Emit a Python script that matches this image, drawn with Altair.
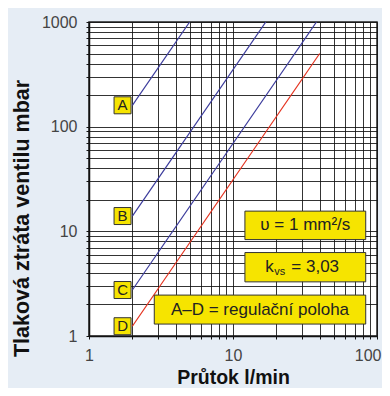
import altair as alt
import pandas as pd

# ---- data ----
series = ["A", "B", "C", "D"]
q_start = [2, 2, 2, 2]
dp_start = [160, 14, 2.75, 1.24]
q_end = [5, 16.9, 38, 40]
dp_end = [1000, 1000, 1000, 500]
line_colors = ["#3b3b9c", "#3b3b9c", "#3b3b9c", "#e5321f"]

x_ticks = [1, 2, 3, 4, 5, 6, 7, 8, 9, 10, 20, 30, 40, 50, 60, 70, 80, 90, 100]
y_ticks = [1, 2, 3, 4, 5, 6, 7, 8, 9, 10, 20, 30, 40, 50, 60, 70, 80, 90,
           100, 200, 300, 400, 500, 600, 700, 800, 900, 1000]

x_title = "Průtok l/min"
y_title = "Tlaková ztráta ventilu mbar"

# annotation boxes (data coordinates)
box_x = [12.1, 12.1, 2.84]
box_x2 = [83.5, 83.5, 83.5]
box_y = [15.6, 6.27, 2.46]
box_y2 = [8.34, 3.29, 1.30]

label_q = 1.71

FONT = "Liberation Sans"
YELLOW = "#f6e400"

rows = []
for s, qs, ps, qe, pe in zip(series, q_start, dp_start, q_end, dp_end):
    rows.append({"s": s, "q": qs, "dp": ps, "o": 0})
    rows.append({"s": s, "q": qe, "dp": pe, "o": 1})
lines_df = pd.DataFrame(rows)

labels_df = pd.DataFrame({"s": series, "q": [label_q] * 4, "dp": dp_start})
boxes_df = pd.DataFrame({"q": box_x, "q2": box_x2, "dp": box_y, "dp2": box_y2})

xs = alt.Scale(type="log", domain=[1, 100], nice=False)
ys = alt.Scale(type="log", domain=[1, 1000], nice=False)

x_axis = alt.Axis(
    values=x_ticks, format="d", title=x_title,
    labelExpr="(datum.value == 1 || datum.value == 10 || datum.value == 100) ? datum.label : ''",
    labelAlign={"condition": {"test": "datum.value == 100", "value": "right"}, "value": "center"},
    labelOffset={"condition": {"test": "datum.value == 100", "value": 4}, "value": 0},
    titleBaseline="alphabetic", titleY=47, titleFontSize=19.5,
)
y_axis = alt.Axis(
    values=y_ticks, format="d", title=y_title,
    labelExpr="(datum.value == 1 || datum.value == 10 || datum.value == 100 || datum.value == 1000) ? datum.label : ''",
    titleBaseline="alphabetic", titleX=-61, titleY=196, titleFontSize=21.5,
)

X = alt.X("q:Q", scale=xs, axis=x_axis)
Y = alt.Y("dp:Q", scale=ys, axis=y_axis)

lines = alt.Chart(lines_df).mark_line(strokeWidth=1.2, clip=True).encode(
    x=X, y=Y,
    color=alt.Color("s:N", scale=alt.Scale(domain=series, range=line_colors), legend=None),
    order="o:O",
)

label_boxes = alt.Chart(labels_df).mark_square(
    size=289, filled=True, fill=YELLOW, stroke="#333333", strokeWidth=1, opacity=1
).encode(x=X, y=Y)

label_text = alt.Chart(labels_df).mark_text(
    font=FONT, fontSize=15, color="#222222"
).encode(x=X, y=Y, text="s:N")

boxes = alt.Chart(boxes_df).mark_rect(
    fill=YELLOW, stroke="#333333", strokeWidth=1
).encode(x=X, x2="q2:Q", y=Y, y2="dp2:Q")

# text anchors (box centres)
def centre(i):
    return ((box_x[i] * box_x2[i]) ** 0.5, (box_y[i] * box_y2[i]) ** 0.5)

c0, c1, c2 = centre(0), centre(1), centre(2)
text_df = pd.DataFrame({"q": [c0[0], c2[0]], "dp": [c0[1], c2[1]],
                        "t": ["υ = 1 mm²/s", "A–D = regulační poloha"]})
texts = alt.Chart(text_df).mark_text(font=FONT, fontSize=17, color="#222222").encode(
    x=X, y=Y, text="t:N",
)

k_df = pd.DataFrame({"q": [c1[0]], "dp": [c1[1]]})
k_base = alt.Chart(k_df).encode(x=X, y=Y)
k1 = k_base.mark_text(font=FONT, fontSize=17, color="#222222", align="left", dx=-40, text="k")
k2 = k_base.mark_text(font=FONT, fontSize=11, color="#222222", align="left", dx=-31, dy=5, text="vs")
k3 = k_base.mark_text(font=FONT, fontSize=17, color="#222222", align="left", dx=-14, text="= 3,03")

chart = alt.layer(lines, label_boxes, label_text, boxes, texts, k1, k2, k3).properties(
    width=288,
    height=314,
    padding={"left": 81, "top": 14, "right": 5, "bottom": 52},
    autosize=alt.AutoSizeParams(type="none"),
    background="#e6edf5",
).configure_view(
    fill="white", stroke="#222222", strokeWidth=1.5
).configure_axis(
    grid=True, gridColor="#111111", gridOpacity=0.85, gridWidth=1,
    domainColor="#111111", domainWidth=1.5,
    tickColor="#111111", tickSize=3, tickWidth=1,
    labelFont=FONT, labelFontSize=16, labelColor="#444444",
    titleFont=FONT, titleFontWeight="bold", titleColor="#111111",
).configure_axisX(
    labelPadding=8, labelFlush=False,
).configure_axisY(
    labelPadding=9,
)

chart.save("out.html", embed_options={"renderer": "svg", "actions": False})
